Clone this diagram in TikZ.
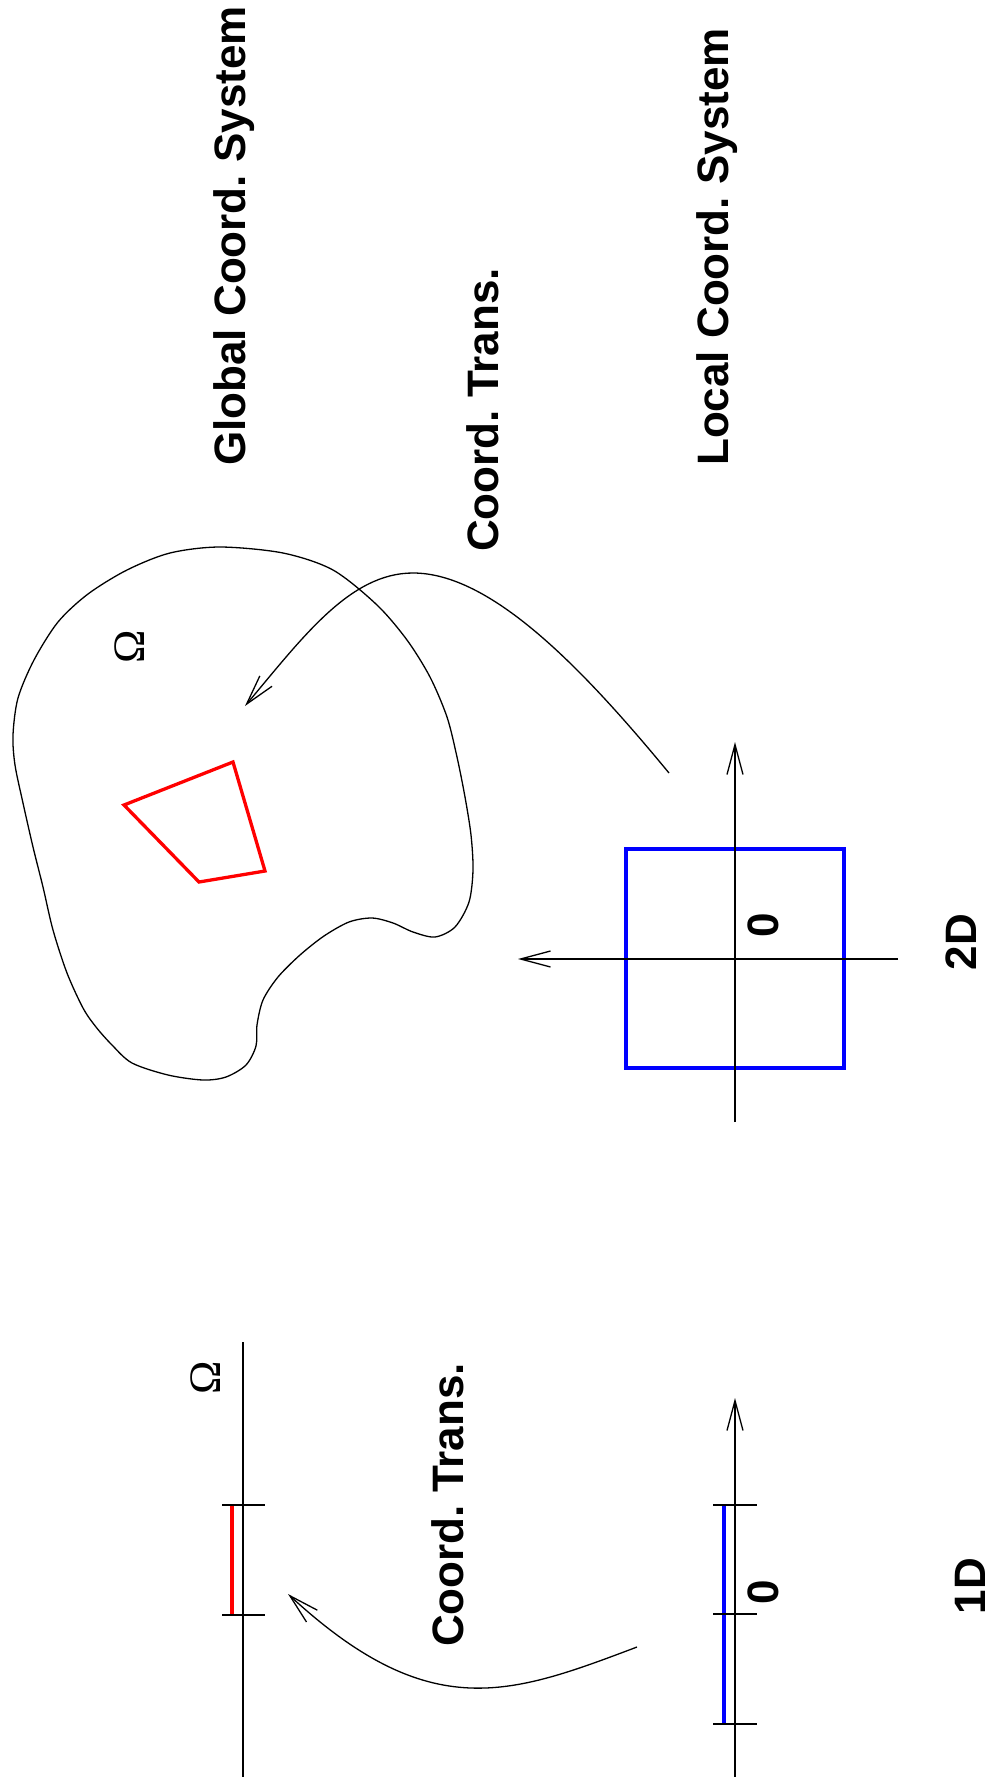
\documentclass[tikz,border=0pt]{standalone}
\usepackage{fontspec}
\setmainfont{Liberation Sans}
\newfontfamily\omegafont{Liberation Serif}
\usetikzlibrary{arrows.meta}
\frenchspacing
\begin{document}
\begin{tikzpicture}[x=1pt,y=-1pt,
  thin line/.style={line width=1.3pt,line cap=butt},
  arr/.style={thin line,-{Straight Barb[length=30pt,width=16pt,line width=1.3pt]}},
  label text/.style={font=\fontsize{44}{50}\selectfont\bfseries,inner sep=0pt,rotate=90},
  omega text/.style={font=\fontsize{45}{50}\selectfont\omegafont,inner sep=0pt,rotate=90},
  red seg/.style={line width=3.3pt,draw={rgb,255:red,255;green,0;blue,0}},
  blue seg/.style={line width=3.6pt,draw={rgb,255:red,0;green,0;blue,255}}]
\useasboundingbox (0,0) rectangle (994,1777);
% ---------- labels ----------
\node[label text,anchor=base west] (global) at (245,466) {Global Coord. System};
\node[label text,anchor=base west] (local) at (728,466) {Local Coord. System};
\node[label text,anchor=base west] (trans2) at (498,552) {Coord. Trans.};
\node[label text,anchor=base west] (trans1) at (463,1647) {Coord. Trans.};
\node[label text] (lab2d) at (961,942) {2D};
\node[label text] (lab1d) at (970,1586) {1D};
\node[label text] (zero2) at (763,925) {0};
\node[label text] (zero1) at (763,1592) {0};
\node[omega text] (om2) at (130,647) {Ω};
\node[omega text] (om1) at (206,1378) {Ω};
% ---------- 2D: global domain ----------
\draw[thin line] plot[smooth cycle,tension=0.5] coordinates {
 (220,547) (283,553) (333,570) (377,605) (407,640) (430,677) (447,717)
 (457,757) (465,797) (471,835) (473,870) (469,902) (455,927) (435,937)
 (413,932) (393,923) (372,918) (349,922) (324,936) (300,955) (278,977)
 (263,1000) (257,1025) (256,1046) (246,1065) (226,1077) (203,1080)
 (168,1075) (132,1063) (112,1045) (96,1027) (83,1008) (67,973) (53,930)
 (43,887) (33,847) (23,803) (15,765) (13,735) (18,698) (34,660) (58,622)
 (88,594) (127,570) (170,553)};
\draw[red seg,line join=miter] (233,762) -- (124,805) -- (199,882) -- (265,871) -- cycle;
% ---------- 2D: local square and axes ----------
\draw[blue seg] (626,849) rectangle (844,1068);
\coordinate (v0) at (735,1122);
\coordinate (v1) at (735,742);
\coordinate (h0) at (898,959);
\coordinate (h1) at (518,959);
\draw[arr] (v0) -- (v1);
\draw[arr] (h0) -- (h1);
% ---------- 2D: transformation arrow ----------
\coordinate (t2s) at (669,773);
\coordinate (t2m) at (413,573);
\coordinate (t2e) at (245,706);
\draw[arr] (t2s) .. controls (580,665) and (490,573) .. (t2m)
                 .. controls (350,573) and (303,637) .. (t2e);
% ---------- 1D: global line ----------
\coordinate (g0) at (243,1342);
\coordinate (g1) at (243,1777);
\draw[thin line] (g0) -- (g1);
\coordinate (ga) at (232,1505);
\coordinate (gb) at (232,1615);
\draw[red seg] (ga) -- (gb);
\coordinate (gt1a) at (222,1505); \coordinate (gt1b) at (265,1505);
\coordinate (gt2a) at (222,1615); \coordinate (gt2b) at (265,1615);
\draw[thin line] (gt1a) -- (gt1b);
\draw[thin line] (gt2a) -- (gt2b);
% ---------- 1D: local line ----------
\coordinate (l0) at (735,1777);
\coordinate (l1) at (735,1398);
\draw[arr] (l0) -- (l1);
\coordinate (la) at (724,1505);
\coordinate (lb) at (724,1724);
\draw[blue seg] (la) -- (lb);
\coordinate (lt1a) at (713,1505); \coordinate (lt1b) at (757,1505);
\coordinate (lt2a) at (713,1614); \coordinate (lt2b) at (757,1614);
\coordinate (lt3a) at (713,1724); \coordinate (lt3b) at (757,1724);
\draw[thin line] (lt1a) -- (lt1b);
\draw[thin line] (lt2a) -- (lt2b);
\draw[thin line] (lt3a) -- (lt3b);
% ---------- 1D: transformation arrow ----------
\coordinate (t1s) at (637,1647);
\coordinate (t1e) at (288,1594);
\draw[arr] (t1s) .. controls (510,1695) and (430,1725) .. (t1e);
\end{tikzpicture}
\end{document}
